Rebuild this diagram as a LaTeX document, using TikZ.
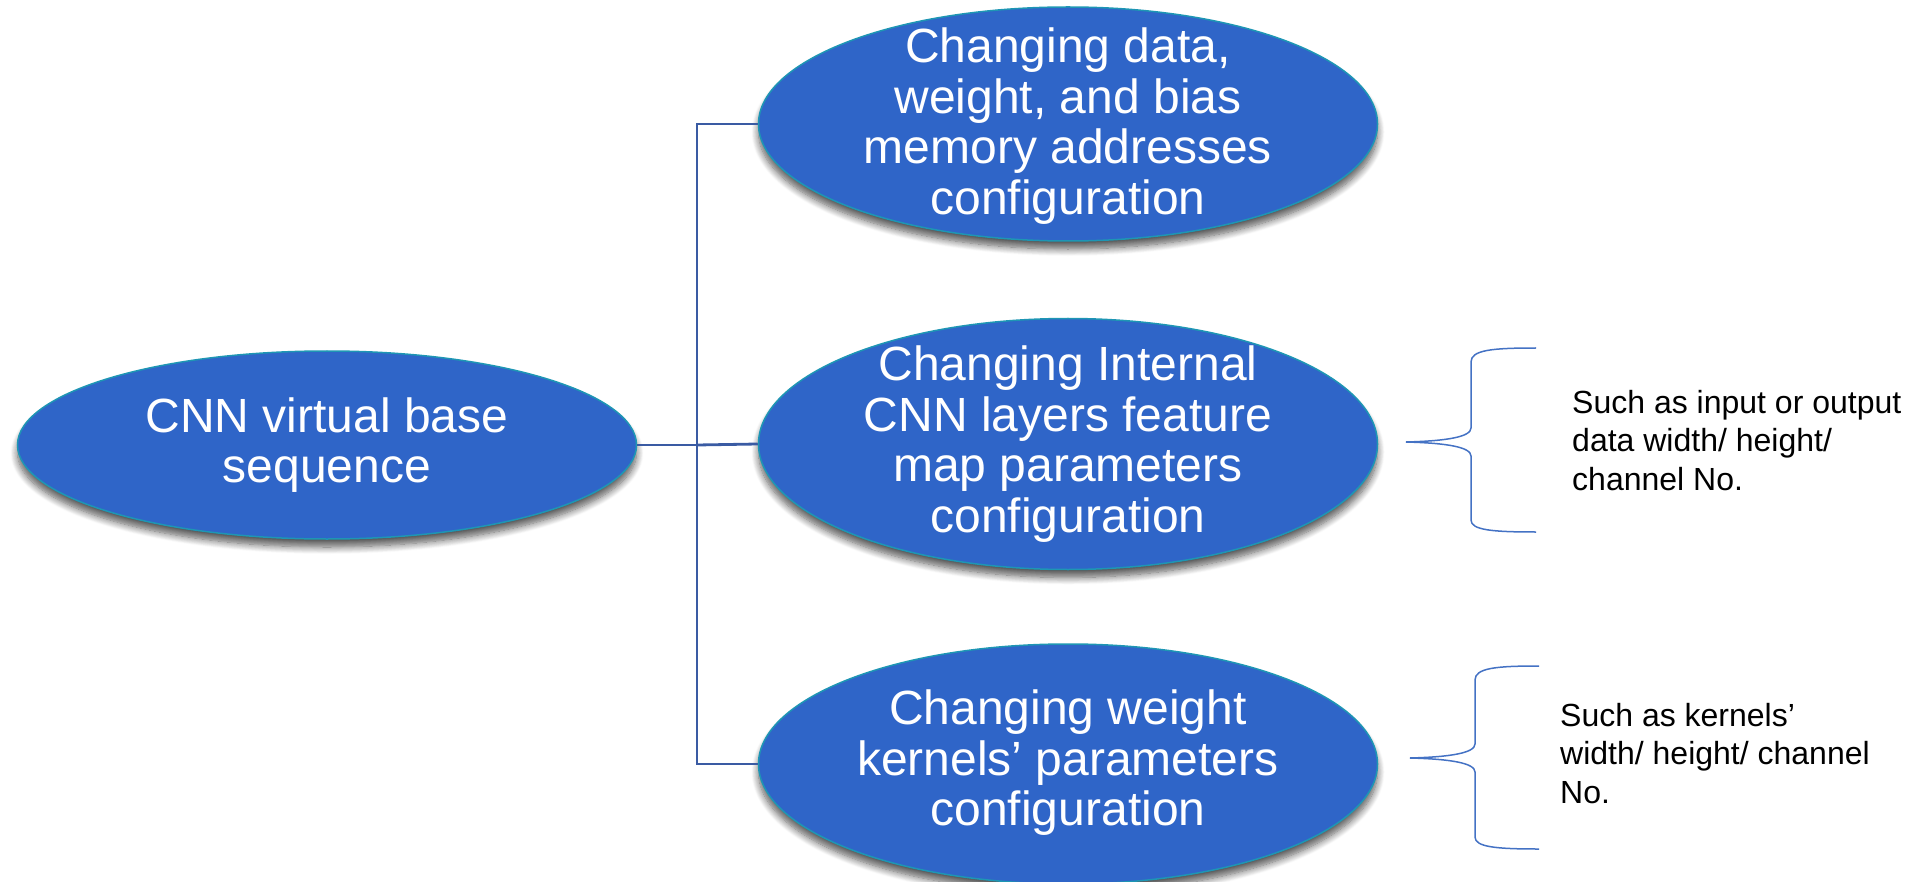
\documentclass[tikz,border=0pt]{standalone}
\usepackage{fontspec}
\setmainfont{Liberation Sans}
\usetikzlibrary{shapes.geometric,shadows.blur}

\definecolor{bubblefill}{HTML}{2F65C8}
\definecolor{bubbleedge}{HTML}{1E96B4}
\definecolor{linkblue}{HTML}{3A5BA3}
\definecolor{braceblue}{HTML}{4472C4}

\tikzset{
  bubble/.style={ellipse, fill=bubblefill, draw=bubbleedge, line width=1.5pt,
    inner sep=0pt,
    blur shadow={shadow xshift=0pt, shadow yshift=-8pt, shadow blur radius=7pt,
      shadow blur steps=10, shadow opacity=65}},
  bubbletext/.style={text=white, align=center, inner sep=0pt,
    font=\fontsize{48}{50.5}\selectfont},
  link/.style={draw=linkblue, line width=2.8pt},
  bracepath/.style={draw=braceblue, line width=1.5pt},
  notetext/.style={text=black, align=left, inner sep=0pt, anchor=base west,
    font=\fontsize{32}{38.5}\selectfont}
}

\begin{document}
\begin{tikzpicture}[x=1pt, y=-1pt]
\useasboundingbox (0,0) rectangle (1911,882);

% ellipses
\node[bubble, minimum width=619pt, minimum height=188pt] (base) at (327,445) {};
\node[bubble, minimum width=619pt, minimum height=234pt] (addr) at (1068,124) {};
\node[bubble, minimum width=619pt, minimum height=251pt] (fmap) at (1068,444) {};
\node[bubble, minimum width=619pt, minimum height=240pt] (kern) at (1068,764) {};

% ellipse captions
\node[bubbletext] (baset) at (base.center) {CNN virtual base\\sequence};
\node[bubbletext] (addrt) at ([yshift=-2pt]addr.center) {Changing data,\\weight, and bias\\memory addresses\\configuration};
\node[bubbletext] (fmapt) at (fmap.center) {Changing Internal\\CNN layers feature\\map parameters\\configuration};
\node[bubbletext] (kernt) at ([yshift=1pt]kern.center) {Changing weight\\kernels’ parameters\\configuration};

% tree connectors
\coordinate (trunk) at (697,445);
\draw[link] (base.east) -- (trunk);
\draw[link] (trunk) -- (fmap.west);
\draw[link] (addr.west) -| (trunk);
\draw[link] (kern.west) -| (trunk);

% brace beside the feature map node
\coordinate (b1) at (1406,442);
\draw[bracepath] (1536,348) .. controls (1492,348) and (1471,350) .. (1471,362)
  -- (1471,428) .. controls (1471,437) and (1446,441) .. (b1)
  .. controls (1446,443) and (1471,447) .. (1471,456)
  -- (1471,520) .. controls (1471,530) and (1492,532) .. (1536,532);
\node[notetext] (note1) at (1572,490) {Such as input or output\\data width/ height/\\channel No.};

% brace beside the kernel node
\coordinate (b2) at (1410,758);
\draw[bracepath] (1539,666) .. controls (1496,666) and (1475,668) .. (1475,680)
  -- (1475,744) .. controls (1475,753) and (1450,757) .. (b2)
  .. controls (1450,759) and (1475,763) .. (1475,772)
  -- (1475,837) .. controls (1475,847) and (1496,849) .. (1539,849);
\node[notetext] (note2) at (1560,803) {Such as kernels’\\width/ height/ channel\\No.};
\end{tikzpicture}
\end{document}
